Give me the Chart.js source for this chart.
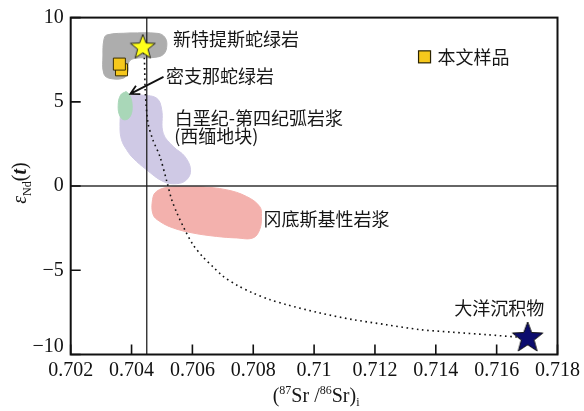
<!DOCTYPE html>
<html>
<head>
<meta charset="utf-8">
<script src="https://cdn.jsdelivr.net/npm/chart.js@4.4.1/dist/chart.umd.min.js"></script>
<style>
  html, body { margin: 0; padding: 0; background: #ffffff; }
  canvas { display: block; }
</style>
</head>
<body>
<canvas id="chart" width="584" height="411"></canvas>
<script>
// Axis ticks
const xTickValues = [0.702, 0.704, 0.706, 0.708, 0.710, 0.712, 0.714, 0.716, 0.718];
const xTickLabels = ['0.702', '0.704', '0.706', '0.708', '0.71', '0.712', '0.714', '0.716', '0.718'];
const yTickValues = [-10, -5, 0, 5, 10];
const yTickLabels = ['\u221210', '\u22125', '0', '5', '10'];

// Samples of this study ((87Sr/86Sr)i, εNd(t))
const samplePoints = [
  { x: 0.70367, y: 6.90 },
  { x: 0.70360, y: 7.24 }
];

// End-members
const neoTethysEndMember = [{ x: 0.70437, y: 8.23 }];
const oceanicSedimentEndMember = [{ x: 0.71702, y: -9.02 }];

// Mixing curve between the two end-members
const mixingCurve = [
  { x: 0.70437, y: 8.23 }, { x: 0.70442, y: 7.59 }, { x: 0.70445, y: 5.61 },
  { x: 0.70454, y: 3.75 }, { x: 0.70470, y: 2.75 }, { x: 0.70493, y: 1.76 },
  { x: 0.70517, y: 0.20 }, { x: 0.70532, y: -0.81 }, { x: 0.70549, y: -1.60 },
  { x: 0.70575, y: -2.59 }, { x: 0.70602, y: -3.48 }, { x: 0.70635, y: -4.22 },
  { x: 0.70668, y: -4.80 }, { x: 0.70701, y: -5.36 }, { x: 0.70749, y: -5.91 },
  { x: 0.70799, y: -6.35 }, { x: 0.70854, y: -6.74 }, { x: 0.70909, y: -7.04 },
  { x: 0.71018, y: -7.53 }, { x: 0.71128, y: -7.93 }, { x: 0.71237, y: -8.23 },
  { x: 0.71346, y: -8.52 }, { x: 0.71456, y: -8.68 }, { x: 0.71565, y: -8.82 },
  { x: 0.71664, y: -8.96 }, { x: 0.71702, y: -9.02 }
];

// Compositional fields (closed outlines)
const neoTethysField = [
  { x: 0.70395, y: 9.09 }, { x: 0.70487, y: 9.06 }, { x: 0.70509, y: 8.84 },
  { x: 0.70516, y: 8.37 }, { x: 0.70506, y: 7.84 }, { x: 0.70477, y: 7.64 },
  { x: 0.70411, y: 7.58 }, { x: 0.70391, y: 7.36 }, { x: 0.70388, y: 6.78 },
  { x: 0.70375, y: 6.42 }, { x: 0.70329, y: 6.39 }, { x: 0.70309, y: 6.66 },
  { x: 0.70306, y: 7.78 }, { x: 0.70309, y: 8.67 }, { x: 0.70319, y: 8.97 },
  { x: 0.70395, y: 9.09 }
];
const myitkyinaField = [
  { x: 0.70382, y: 5.61 }, { x: 0.70394, y: 5.40 }, { x: 0.70402, y: 4.77 },
  { x: 0.70396, y: 4.15 }, { x: 0.70378, y: 3.93 }, { x: 0.70362, y: 4.15 },
  { x: 0.70356, y: 4.77 }, { x: 0.70364, y: 5.40 }, { x: 0.70382, y: 5.61 }
];
const arcMagmaField = [
  { x: 0.70427, y: 5.42 }, { x: 0.70482, y: 5.22 }, { x: 0.70499, y: 4.55 },
  { x: 0.70504, y: 3.14 }, { x: 0.70537, y: 2.35 }, { x: 0.70575, y: 1.76 },
  { x: 0.70594, y: 0.97 }, { x: 0.70581, y: 0.37 }, { x: 0.70548, y: 0.14 },
  { x: 0.70504, y: 0.27 }, { x: 0.70449, y: 0.97 }, { x: 0.70405, y: 1.66 },
  { x: 0.70384, y: 2.15 }, { x: 0.70367, y: 2.75 }, { x: 0.70362, y: 3.54 },
  { x: 0.70367, y: 4.55 }, { x: 0.70384, y: 5.31 }, { x: 0.70427, y: 5.42 }
];
const gangdeseField = [
  { x: 0.70624, y: -0.02 }, { x: 0.70712, y: -0.22 }, { x: 0.70778, y: -0.62 },
  { x: 0.70821, y: -1.21 }, { x: 0.70827, y: -1.80 }, { x: 0.70821, y: -2.59 },
  { x: 0.70799, y: -3.08 }, { x: 0.70745, y: -3.08 }, { x: 0.70679, y: -2.99 },
  { x: 0.70602, y: -2.79 }, { x: 0.70537, y: -2.49 }, { x: 0.70493, y: -2.10 },
  { x: 0.70471, y: -1.70 }, { x: 0.70469, y: -0.81 }, { x: 0.70482, y: -0.32 },
  { x: 0.70526, y: -0.06 }, { x: 0.70624, y: -0.02 }
];

// Reference lines: bulk-earth Sr and εNd = 0
const bulkEarthSr = [{ x: 0.7045, y: -10 }, { x: 0.7045, y: 10 }];
const chondriteNd = [{ x: 0.702, y: 0 }, { x: 0.718, y: 0 }];

// Field names and where they sit (data coordinates, left/middle anchor)
const fieldNames = ['新特提斯蛇绿岩', '密支那蛇绿岩', '白垩纪-第四纪弧岩浆', '(西缅地块)', '冈底斯基性岩浆', '大洋沉积物'];
const fieldNameAnchors = [
  { x: 0.70536, y: 8.75 }, { x: 0.70513, y: 6.50 }, { x: 0.70542, y: 4.03 },
  { x: 0.70540, y: 2.94 }, { x: 0.70834, y: -1.94 }, { x: 0.71461, y: -7.24 }
];
const legendLabel = '本文样品';
const legendAnchor = { x: 0.71363, y: 7.67 };
const arrowTail = { x: 0.70505, y: 6.48 };
const arrowHead = { x: 0.70396, y: 5.47 };

const SERIF = '"Liberation Serif", "Times New Roman", serif';
const CJK = '"Noto Sans CJK SC", "Noto Sans", sans-serif';

function starMarker(R, fill, stroke) {
  const pad = 2;
  const size = Math.ceil(2 * R + 2 * pad);
  const c = document.createElement('canvas');
  c.width = size; c.height = size;
  const g = c.getContext('2d');
  const cx = size / 2, cy = size / 2;
  const r = R * 0.42;
  g.beginPath();
  for (let i = 0; i < 10; i++) {
    const rad = i % 2 === 0 ? R : r;
    const a = -Math.PI / 2 + i * Math.PI / 5;
    const px = cx + rad * Math.cos(a), py = cy + rad * Math.sin(a);
    if (i === 0) g.moveTo(px, py); else g.lineTo(px, py);
  }
  g.closePath();
  g.fillStyle = fill;
  g.fill();
  g.lineWidth = 1;
  g.strokeStyle = stroke;
  g.stroke();
  return c;
}

const yellowStar = starMarker(13, '#ffff1a', '#222222');
const navyStar = starMarker(16, '#0c0c6e', '#111111');

function field(data, color) {
  return {
    data, showLine: true, fill: 'shape', tension: 0.4,
    backgroundColor: color, borderColor: color, borderWidth: 1,
    pointRadius: 0, pointHoverRadius: 0
  };
}

// Frame and inward tick marks
const framePlugin = {
  id: 'frame',
  afterDatasetsDraw(chart) {
    const { ctx, chartArea: a, scales: { x, y } } = chart;
    ctx.save();
    ctx.strokeStyle = '#111111';
    ctx.lineWidth = 1.6;
    ctx.beginPath();
    xTickValues.forEach(v => {
      const p = x.getPixelForValue(v);
      ctx.moveTo(p, a.bottom); ctx.lineTo(p, a.bottom - 10);
    });
    yTickValues.forEach(v => {
      const p = y.getPixelForValue(v);
      ctx.moveTo(a.left, p); ctx.lineTo(a.left + 10, p);
    });
    ctx.stroke();
    ctx.lineWidth = 2;
    ctx.strokeRect(a.left, a.top, a.right - a.left, a.bottom - a.top);
    ctx.restore();
  }
};

// Field names, arrow, legend and axis titles
const notesPlugin = {
  id: 'notes',
  afterDraw(chart) {
    const { ctx, chartArea: a, scales: { x, y } } = chart;
    const px = v => x.getPixelForValue(v);
    const py = v => y.getPixelForValue(v);
    ctx.save();

    ctx.fillStyle = '#161616';
    ctx.font = '18px ' + CJK;
    ctx.textAlign = 'left';
    ctx.textBaseline = 'middle';
    fieldNames.forEach((t, i) => {
      ctx.fillText(t, px(fieldNameAnchors[i].x), py(fieldNameAnchors[i].y));
    });

    // arrow to the Myitkyina field
    const x1 = px(arrowTail.x), y1 = py(arrowTail.y);
    const x2 = px(arrowHead.x), y2 = py(arrowHead.y);
    ctx.strokeStyle = '#111111';
    ctx.beginPath();
    ctx.moveTo(x1, y1); ctx.lineTo(x2, y2);
    const ang = Math.atan2(y2 - y1, x2 - x1);
    const hl = 10, spread = 0.5;
    ctx.moveTo(x2 - hl * Math.cos(ang - spread), y2 - hl * Math.sin(ang - spread));
    ctx.lineTo(x2, y2);
    ctx.lineTo(x2 - hl * Math.cos(ang + spread), y2 - hl * Math.sin(ang + spread));
    ctx.lineWidth = 1.8;
    ctx.stroke();

    // legend
    const lx = px(legendAnchor.x), ly = py(legendAnchor.y);
    ctx.fillStyle = '#f6c81c';
    ctx.fillRect(lx - 6, ly - 6, 12, 12);
    ctx.lineWidth = 1.2;
    ctx.strokeStyle = '#2a2200';
    ctx.strokeRect(lx - 6, ly - 6, 12, 12);
    ctx.fillStyle = '#161616';
    ctx.font = '18px ' + CJK;
    ctx.fillText(legendLabel, lx + 13, ly);

    // x axis title: (87Sr /86Sr)i
    const parts = [
      { t: '(', f: '20px ' + SERIF, dy: 0 },
      { t: '87', f: '12px ' + SERIF, dy: -8 },
      { t: 'Sr /', f: '20px ' + SERIF, dy: 0 },
      { t: '86', f: '12px ' + SERIF, dy: -8 },
      { t: 'Sr)', f: '20px ' + SERIF, dy: 0 },
      { t: 'i', f: '12px ' + SERIF, dy: 4 }
    ];
    ctx.textBaseline = 'alphabetic';
    let total = 0;
    parts.forEach(p => { ctx.font = p.f; p.w = ctx.measureText(p.t).width; total += p.w; });
    let cx = (a.left + a.right) / 2 + 2 - total / 2;
    parts.forEach(p => { ctx.font = p.f; ctx.fillText(p.t, cx, 402 + p.dy); cx += p.w; });

    // y axis title: εNd(t)
    const yparts = [
      { t: 'ε', f: 'italic 20px ' + SERIF, dy: 0 },
      { t: 'Nd', f: '12px ' + SERIF, dy: 5 },
      { t: '(', f: '20px ' + SERIF, dy: 0 },
      { t: 't', f: 'italic bold 20px ' + SERIF, dy: 0 },
      { t: ')', f: '20px ' + SERIF, dy: 0 }
    ];
    total = 0;
    yparts.forEach(p => { ctx.font = p.f; p.w = ctx.measureText(p.t).width; total += p.w; });
    ctx.translate(26, (a.top + a.bottom) / 2 - 3);
    ctx.rotate(-Math.PI / 2);
    let u = -total / 2;
    yparts.forEach(p => { ctx.font = p.f; ctx.fillText(p.t, u, p.dy); u += p.w; });

    ctx.restore();
  }
};

new Chart(document.getElementById('chart'), {
  type: 'scatter',
  data: {
    datasets: [
      { data: oceanicSedimentEndMember, pointStyle: navyStar, pointRadius: 16, pointHoverRadius: 16 },
      { data: neoTethysEndMember, pointStyle: yellowStar, pointRadius: 13, pointHoverRadius: 13 },
      { data: samplePoints, pointStyle: 'rect', pointRadius: 8.5, pointHoverRadius: 8.5,
        backgroundColor: '#f6c81c', borderColor: '#3a2e00', borderWidth: 1 },
      { data: mixingCurve, showLine: true, tension: 0.3, borderColor: '#111111', borderWidth: 1.6,
        borderDash: [1.6, 3.6], pointRadius: 0, pointHoverRadius: 0 },
      { data: bulkEarthSr, showLine: true, borderColor: '#222222', borderWidth: 1.3, pointRadius: 0 },
      { data: chondriteNd, showLine: true, borderColor: '#333333', borderWidth: 1.5, pointRadius: 0 },
      field(myitkyinaField, '#a9d7b8'),
      field(neoTethysField, '#adadad'),
      field(gangdeseField, '#f3b1ad'),
      field(arcMagmaField, '#cfc9e5')
    ]
  },
  options: {
    responsive: false,
    animation: false,
    devicePixelRatio: 1,
    layout: { padding: { top: 17.6, right: 25.7, left: 0, bottom: 0 } },
    plugins: { legend: { display: false }, tooltip: { enabled: false } },
    scales: {
      x: {
        type: 'linear', min: 0.702, max: 0.718,
        afterBuildTicks: s => { s.ticks = xTickValues.map(v => ({ value: v })); },
        afterFit: s => { s.height = 56.5; },
        grid: { display: false, drawTicks: false },
        border: { display: false },
        ticks: {
          autoSkip: false, maxRotation: 0, padding: 4, color: '#111111',
          font: { family: SERIF, size: 20 },
          callback: (v, i) => xTickLabels[i]
        }
      },
      y: {
        type: 'linear', min: -10, max: 10,
        afterBuildTicks: s => { s.ticks = yTickValues.map(v => ({ value: v })); },
        afterFit: s => { s.width = 70.7; },
        grid: { display: false, drawTicks: false },
        border: { display: false },
        ticks: {
          padding: 7, color: '#111111',
          font: { family: SERIF, size: 20, lineHeight: 0.75 },
          callback: (v, i) => (i === 0 ? [yTickLabels[i], ''] : yTickLabels[i])
        }
      }
    }
  },
  plugins: [framePlugin, notesPlugin]
});
</script>
</body>
</html>
